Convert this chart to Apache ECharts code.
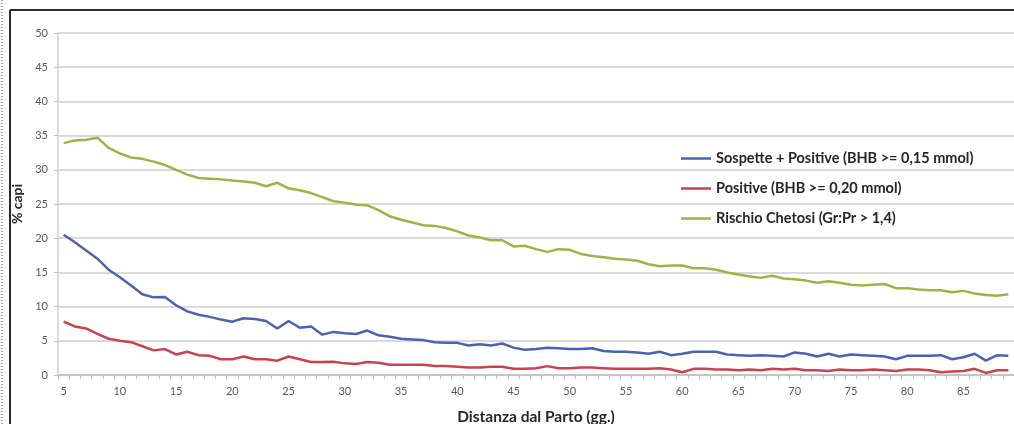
<!DOCTYPE html>
<html>
<head>
<meta charset="utf-8">
<script src="https://cdn.jsdelivr.net/npm/echarts@6/dist/echarts.min.js"></script>
<style>
  html, body { margin: 0; padding: 0; background: #ffffff; }
  #chart { width: 1014px; height: 424px; }
</style>
</head>
<body>
<div id="chart"></div>
<script>
// Days since calving (x axis categories)
const days = [];
for (let d = 5; d <= 89; d++) days.push(String(d));

// Series names
const nameSospette = 'Sospette + Positive (BHB >= 0,15 mmol)';
const namePositive = 'Positive (BHB >= 0,20 mmol)';
const nameRischio = 'Rischio Chetosi (Gr:Pr > 1,4)';

// % of animals, days 5..89
const sospettePositive = [
  20.5, 19.4, 18.2, 17.0, 15.4, 14.3, 13.1, 11.8, 11.35, 11.4,
  10.2, 9.3, 8.8, 8.5, 8.1, 7.8, 8.3, 8.2, 7.9, 6.8,
  7.9, 6.9, 7.1, 5.9, 6.3, 6.1, 6.0, 6.5, 5.8, 5.6,
  5.3, 5.2, 5.1, 4.8, 4.7, 4.7, 4.3, 4.5, 4.3, 4.6,
  4.0, 3.7, 3.8, 4.0, 3.9, 3.8, 3.8, 3.9, 3.5, 3.4,
  3.4, 3.3, 3.1, 3.4, 2.9, 3.1, 3.4, 3.4, 3.4, 3.0,
  2.9, 2.8, 2.9, 2.8, 2.7, 3.3, 3.1, 2.7, 3.1, 2.7,
  3.0, 2.9, 2.8, 2.7, 2.3, 2.8, 2.8, 2.8, 2.9, 2.3,
  2.6, 3.1, 2.1, 2.9, 2.8
];

const positive = [
  7.8, 7.1, 6.8, 6.0, 5.3, 5.0, 4.8, 4.2, 3.6, 3.8,
  3.0, 3.4, 2.9, 2.8, 2.3, 2.3, 2.7, 2.3, 2.3, 2.1,
  2.7, 2.3, 1.9, 1.9, 1.95, 1.7, 1.6, 1.9, 1.8, 1.5,
  1.5, 1.5, 1.5, 1.3, 1.3, 1.2, 1.1, 1.1, 1.2, 1.2,
  0.9, 0.9, 1.0, 1.3, 1.0, 1.0, 1.1, 1.1, 1.0, 0.9,
  0.9, 0.9, 0.9, 1.0, 0.8, 0.4, 0.9, 0.9, 0.8, 0.8,
  0.7, 0.8, 0.7, 0.9, 0.8, 0.9, 0.7, 0.7, 0.6, 0.8,
  0.7, 0.7, 0.8, 0.7, 0.6, 0.8, 0.8, 0.7, 0.4, 0.5,
  0.6, 0.9, 0.3, 0.7, 0.7
];

const rischioChetosi = [
  33.9, 34.3, 34.4, 34.7, 33.2, 32.4, 31.8, 31.6, 31.2, 30.7,
  30.0, 29.3, 28.8, 28.7, 28.6, 28.45, 28.3, 28.1, 27.6, 28.1,
  27.3, 27.0, 26.6, 26.0, 25.4, 25.2, 24.9, 24.8, 24.1, 23.2,
  22.7, 22.3, 21.9, 21.8, 21.5, 21.0, 20.4, 20.1, 19.7, 19.7,
  18.8, 18.9, 18.4, 18.0, 18.4, 18.3, 17.7, 17.4, 17.2, 17.0,
  16.9, 16.7, 16.2, 15.9, 16.0, 16.0, 15.6, 15.6, 15.4, 15.0,
  14.7, 14.4, 14.2, 14.5, 14.1, 14.0, 13.8, 13.5, 13.7, 13.5,
  13.2, 13.1, 13.2, 13.3, 12.7, 12.7, 12.5, 12.4, 12.4, 12.1,
  12.3, 11.9, 11.7, 11.6, 11.8
];

// Y axis range
const yMin = 0, yMax = 50, yStep = 5;

const chart = echarts.init(document.getElementById('chart'), null, { renderer: 'canvas' });

const font = 'Lato, "Open Sans", sans-serif';

function lineSeries(name, data, color) {
  return {
    name: name,
    type: 'line',
    data: data,
    symbol: 'none',
    smooth: false,
    lineStyle: { color: color, width: 2.5 },
    itemStyle: { color: color },
    animation: false
  };
}

chart.setOption({
  animation: false,
  backgroundColor: '#ffffff',
  textStyle: { fontFamily: font },
  graphic: [
    // dotted page edge
    { type: 'line', shape: { x1: 2, y1: 0, x2: 2, y2: 424 },
      style: { stroke: '#555', lineWidth: 1, lineDash: [1, 2] }, silent: true },
    // chart frame
    { type: 'line', shape: { x1: 10, y1: 10, x2: 1014, y2: 10 },
      style: { stroke: '#2a2a2a', lineWidth: 2 }, silent: true },
    { type: 'line', shape: { x1: 10, y1: 10, x2: 10, y2: 424 },
      style: { stroke: '#2a2a2a', lineWidth: 2 }, silent: true }
  ],
  grid: {
    left: 58, top: 33, width: 956, height: 342,
    containLabel: false,
    outerBoundsMode: 'none'
  },
  legend: {
    orient: 'vertical',
    left: 676,
    top: 146,
    itemWidth: 30,
    itemHeight: 2.5,
    itemGap: 15,
    icon: 'rect',
    data: [nameSospette, namePositive, nameRischio],
    textStyle: { fontFamily: font, fontSize: 14.5, fontWeight: 'bold', color: '#262626' }
  },
  xAxis: {
    type: 'category',
    data: days,
    boundaryGap: true,
    name: 'Distanza dal Parto (gg.)',
    nameLocation: 'middle',
    nameGap: 34,
    nameTextStyle: { fontFamily: font, fontSize: 15.5, fontWeight: 'bold', color: '#262626' },
    axisLine: { lineStyle: { color: '#bfbfbf', width: 1.5 } },
    axisTick: { show: true, interval: 0, length: 4, lineStyle: { color: '#bfbfbf' } },
    axisLabel: {
      interval: 4,
      fontFamily: font, fontSize: 11, color: '#595959', margin: 11
    },
    splitLine: { show: false }
  },
  yAxis: {
    type: 'value',
    min: yMin,
    max: yMax,
    interval: yStep,
    name: '% capi',
    nameLocation: 'middle',
    nameGap: 33,
    nameRotate: 90,
    nameTextStyle: { fontFamily: font, fontSize: 14, fontWeight: 'bold', color: '#262626' },
    axisLine: { show: true, lineStyle: { color: '#d0d0d0', width: 1.5 } },
    axisTick: { show: true, length: 4, lineStyle: { color: '#bfbfbf' } },
    axisLabel: { fontFamily: font, fontSize: 11, color: '#595959', margin: 10 },
    splitLine: { show: true, lineStyle: { color: '#dadada', width: 2 } }
  },
  series: [
    lineSeries(nameSospette, sospettePositive, '#4a62b4'),
    lineSeries(namePositive, positive, '#c8424f'),
    lineSeries(nameRischio, rischioChetosi, '#9bb446')
  ]
});
</script>
</body>
</html>
